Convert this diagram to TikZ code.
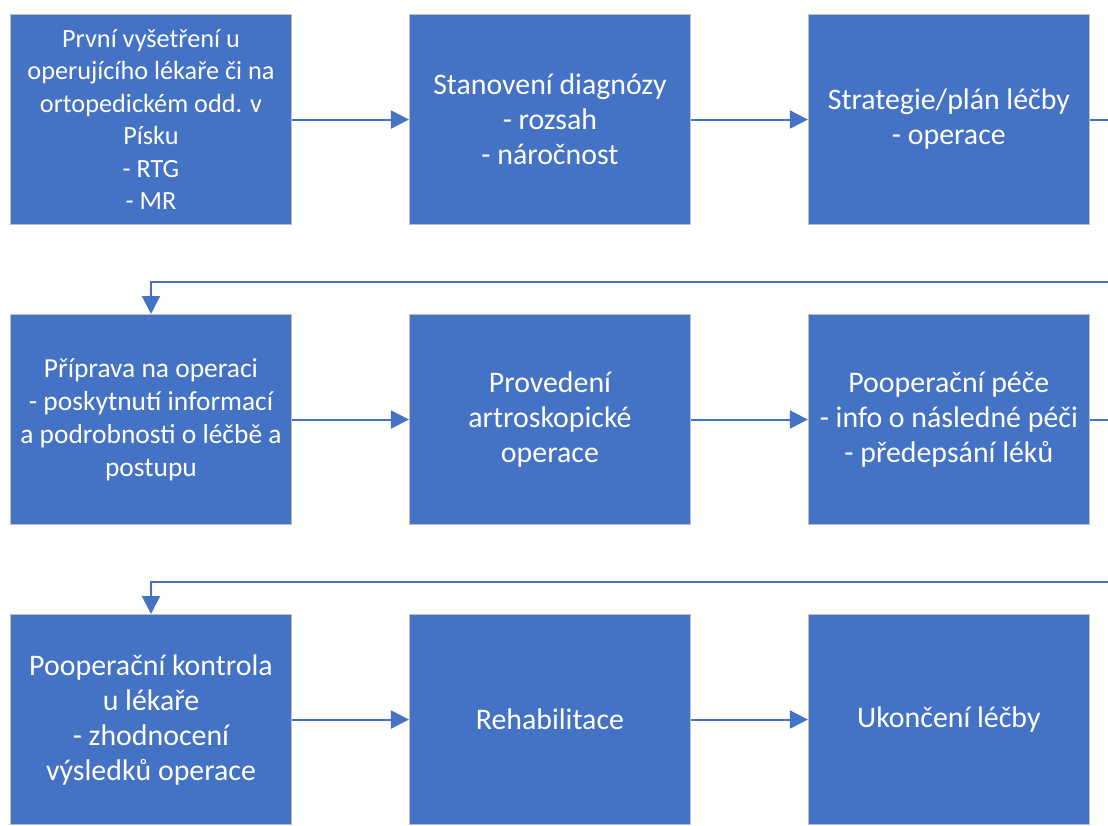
\documentclass[tikz,border=0pt]{standalone}
\usepackage{fontspec}
\setmainfont{Carlito}
\usepackage{tikz}
\usepackage{xcolor}
\usetikzlibrary{arrows.meta,positioning}
\definecolor{StepBlue}{RGB}{68,114,196}
\definecolor{EdgeGray}{RGB}{190,190,190}

\tikzset{
  stepbox/.style={draw=EdgeGray, line width=0.8pt, fill=StepBlue, text=white, align=center,
    minimum width=210.7pt, minimum height=157.5pt, inner sep=2pt,
    font=\fontsize{22.4}{26.25}\selectfont},
  flow/.style={draw=StepBlue, line width=1.5pt, -{Triangle[length=13.5pt,width=13.5pt]}}
}

\begin{document}
\begin{tikzpicture}[node distance=66.7pt and 87.7pt]
% first row
\node[stepbox, font=\fontsize{19.7}{24.4}\selectfont] (exam) {První vyšetření u\\operujícího lékaře či na\\ortopedickém odd. v\\Písku\\- RTG\\- MR};
\node[stepbox, right=of exam] (diag) {Stanovení diagnózy\\- rozsah\\- náročnost};
\node[stepbox, right=of diag] (plan) {Strategie/plán léčby\\- operace};
% second row
\node[stepbox, below=of exam, font=\fontsize{20.6}{24.75}\selectfont] (prep) {Příprava na operaci\\- poskytnutí informací\\a podrobnosti o léčbě a\\postupu};
\node[stepbox, right=of prep] (surg) {Provedení\\artroskopické\\operace};
\node[stepbox, right=of surg] (care) {Pooperační péče\\- info o následné péči\\- předepsání léků};
% third row
\node[stepbox, below=of prep] (check) {Pooperační kontrola\\u lékaře\\- zhodnocení\\výsledků operace};
\node[stepbox, right=of check] (rehab) {Rehabilitace};
\node[stepbox, right=of rehab] (done) {Ukončení léčby};

\useasboundingbox ([shift={(-7.5pt,10.5pt)}]exam.north west) rectangle ++(831pt,-616.5pt);

\draw[flow] (exam) -- (diag);
\draw[flow] (diag) -- (plan);
\draw[flow] (plan.east) -- ++(40pt,0) |- ([yshift=24pt]prep.north) -- (prep.north);
\draw[flow] (prep) -- (surg);
\draw[flow] (surg) -- (care);
\draw[flow] (care.east) -- ++(40pt,0) |- ([yshift=24pt]check.north) -- (check.north);
\draw[flow] (check) -- (rehab);
\draw[flow] (rehab) -- (done);
\end{tikzpicture}
\end{document}
